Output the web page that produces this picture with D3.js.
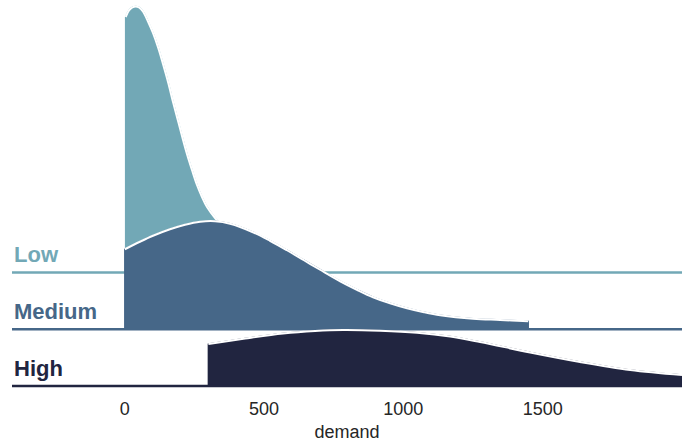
<!DOCTYPE html>
<html>
<head>
<meta charset="utf-8">
<script src="https://cdn.jsdelivr.net/npm/d3@7"></script>
<style>
  html, body { margin: 0; padding: 0; background: #ffffff; }
  svg { display: block; }
</style>
</head>
<body>
<svg id="chart" width="683" height="442"></svg>
<script>
// Demand level groups, drawn top to bottom
const categories = ["Low", "Medium", "High"];

// Kernel density estimates per group (demand value, density x 1e-3)
const lowDemand     = [5, 17, 29, 41, 53, 67, 86, 103, 122, 139, 158, 175, 194, 211, 225, 243, 261, 279, 297, 326, 362, 415, 487, 559, 631, 703];
const lowDensity    = [5.11, 5.24, 5.30, 5.32, 5.30, 5.22, 5.01, 4.79, 4.49, 4.17, 3.79, 3.41, 3.01, 2.65, 2.37, 2.05, 1.75, 1.51, 1.31, 1.09, 0.87, 0.61, 0.35, 0.19, 0.09, 0.03];

const mediumDemand  = [2, 56, 103, 164, 218, 272, 326, 380, 462, 523, 584, 645, 703, 775, 835, 893, 954, 1015, 1076, 1134, 1252, 1349, 1450];
const mediumDensity = [1.60, 1.75, 1.87, 2.00, 2.09, 2.15, 2.16, 2.11, 1.94, 1.77, 1.58, 1.38, 1.19, 0.96, 0.79, 0.64, 0.52, 0.42, 0.34, 0.28, 0.21, 0.186, 0.16];

const highDemand    = [302, 434, 570, 685, 785, 918, 1051, 1170, 1277, 1457, 1636, 1816, 2002];
const highDensity   = [0.84, 0.95, 1.05, 1.10, 1.12, 1.106, 1.066, 0.99, 0.88, 0.67, 0.48, 0.32, 0.22];

const xTicks = [0, 500, 1000, 1500];
const xLabel = "demand";

const palette = ["#72a8b6", "#466788", "#212540"];

const series = [
  { name: categories[0], xs: lowDemand,    ds: lowDensity },
  { name: categories[1], xs: mediumDemand, ds: mediumDensity },
  { name: categories[2], xs: highDemand,   ds: highDensity }
];

const W = 683, H = 442;
const plotLeft = 12, plotRight = 682;

const svg = d3.select("#chart");

const x = d3.scaleLinear().domain([-403, 2002]).range([plotLeft, plotRight]);
const rowY = d3.scalePoint().domain(categories).range([272.5, 386]);
const h = d3.scaleLinear().domain([0, 5.3]).range([0, 265]);
const color = d3.scaleOrdinal().domain(categories).range(palette);

svg.append("defs").append("clipPath").attr("id", "plot-clip")
  .append("rect").attr("x", plotLeft).attr("y", 0)
  .attr("width", plotRight - plotLeft).attr("height", H);

const plot = svg.append("g").attr("clip-path", "url(#plot-clip)");

const smooth = d3.curveCatmullRom.alpha(0.5);

series.forEach(s => {
  const base = rowY(s.name);
  const pts = s.xs.map((v, i) => [v, s.ds[i]]);
  const c = color(s.name);

  const area = d3.area()
    .x(d => x(d[0]))
    .y0(base)
    .y1(d => base - h(d[1]))
    .curve(smooth);

  const line = d3.line()
    .x(d => x(d[0]))
    .y(d => base - h(d[1]))
    .curve(smooth);

  const g = plot.append("g").attr("class", "ridge");

  // filled density with a same-colour edge
  g.append("path")
    .datum(pts)
    .attr("d", area)
    .attr("fill", c)
    .attr("stroke", c)
    .attr("stroke-width", 1.5)
    .attr("stroke-linejoin", "round");

  // white outline along the density curve
  g.append("path")
    .datum(pts)
    .attr("d", line)
    .attr("fill", "none")
    .attr("stroke", "#ffffff")
    .attr("stroke-width", 2);

  // baseline of the row
  g.append("line")
    .attr("x1", plotLeft).attr("x2", plotRight)
    .attr("y1", base).attr("y2", base)
    .attr("stroke", c)
    .attr("stroke-width", 2.5);

  svg.append("text")
    .attr("x", 14)
    .attr("y", base - 10.5)
    .attr("fill", c)
    .attr("font-family", "'Liberation Sans', Arial, sans-serif")
    .attr("font-weight", "bold")
    .attr("font-size", 22)
    .text(s.name);
});

// x axis: tick labels only
const axis = d3.axisBottom(x).tickValues(xTicks).tickSize(0).tickPadding(0).tickFormat(d3.format("d"));
const axisG = svg.append("g").attr("transform", "translate(0,400)").call(axis);
axisG.select(".domain").remove();
axisG.selectAll("text")
  .attr("dy", null)
  .attr("y", 15)
  .attr("fill", "#262626")
  .attr("font-family", "'Liberation Sans', Arial, sans-serif")
  .attr("font-size", 18);

svg.append("text")
  .attr("x", (x(-403) + x(2002)) / 2)
  .attr("y", 438)
  .attr("text-anchor", "middle")
  .attr("fill", "#262626")
  .attr("font-family", "'Liberation Sans', Arial, sans-serif")
  .attr("font-size", 18)
  .text(xLabel);
</script>
</body>
</html>
